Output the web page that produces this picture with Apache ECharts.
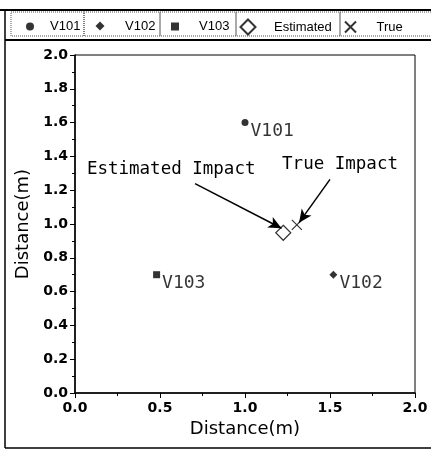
<!DOCTYPE html>
<html>
<head>
<meta charset="utf-8">
<script src="https://cdn.jsdelivr.net/npm/echarts@6/dist/echarts.min.js"></script>
<style>
  html, body { margin: 0; padding: 0; background: #fff; }
  #chart { width: 431px; height: 450px; }
</style>
</head>
<body>
<div id="chart"></div>
<script>
// sensor positions and impact points (m)
const v101 = [[1.0, 1.6]];
const v102 = [[1.52, 0.70]];
const v103 = [[0.48, 0.70]];
const estimated = [[1.225, 0.948]];
const trueImpact = [[1.305, 0.995]];

// annotation text anchors and arrows
const estText = [0.07, 1.32];
const trueText = [1.218, 1.35];
const estArrow = [[0.706, 1.239], [1.215, 0.975]];
const trueArrow = [[1.50, 1.264], [1.318, 1.008]];

const axisMin = 0, axisMax = 2.0;
const xStep = 0.5, yStep = 0.2;

const monoFont = "'DejaVu Sans Mono', monospace";
const black = '#000';

let myChart = echarts.init(document.getElementById('chart'));

// one legend per box, icon centred at cx, text starting at tx
function legendItem(name, cx, size, tx, top) {
  let left = cx - size / 2;
  return {
    data: [name],
    left: left,
    top: top,
    padding: 0,
    itemWidth: size,
    itemHeight: size,
    selectedMode: false,
    textStyle: {
      color: black, fontSize: 13, fontFamily: 'Liberation Sans, Arial',
      padding: [0, 0, 0, tx - (left + size + 5)]
    }
  };
}

function pointLabel(name) {
  return {
    show: true,
    formatter: name,
    position: 'right',
    distance: 2,
    offset: [0, 9],
    color: black,
    fontSize: 18,
    fontFamily: monoFont
  };
}

function cell(x1, x2) {
  return {
    type: 'rect',
    shape: { x: x1, y: 12, width: x2 - x1, height: 24 },
    style: { fill: 'none', stroke: '#555', lineWidth: 1, lineDash: [1, 1] },
    silent: true
  };
}

let option = {
  backgroundColor: '#fff',
  animation: false,
  legend: [
    legendItem('V101', 30, 8, 50, 20),
    legendItem('V102', 100, 9, 125, 19.5),
    legendItem('V103', 175, 8, 199, 20),
    legendItem('Estimated', 247, 15, 273, 18.5),
    legendItem('True', 348, 11, 374, 19)
  ],
  graphic: [
    { type: 'line', shape: { x1: 0, y1: 10, x2: 431, y2: 10 }, style: { stroke: black, lineWidth: 2 }, silent: true },
    { type: 'line', shape: { x1: 5, y1: 40, x2: 431, y2: 40 }, style: { stroke: black, lineWidth: 2 }, silent: true },
    { type: 'line', shape: { x1: 5, y1: 10, x2: 5, y2: 448 }, style: { stroke: black, lineWidth: 1.5 }, silent: true },
    { type: 'line', shape: { x1: 5, y1: 448, x2: 431, y2: 448 }, style: { stroke: black, lineWidth: 1.5 }, silent: true },
    cell(11, 84), cell(84, 160), cell(160, 236), cell(236, 340), cell(340, 440)
  ],
  grid: {
    left: 75,
    right: 16,
    top: 55,
    bottom: 57,
    show: true,
    borderColor: black,
    borderWidth: 1,
    backgroundColor: 'transparent'
  },
  xAxis: {
    type: 'value',
    min: axisMin,
    max: axisMax,
    interval: xStep,
    name: 'Distance(m)',
    nameLocation: 'middle',
    nameGap: 24,
    nameTextStyle: { color: black, fontSize: 18, fontFamily: 'DejaVu Sans' },
    axisLine: { show: true, onZero: false, lineStyle: { color: black, width: 1.5 } },
    axisTick: { show: true, length: 5, lineStyle: { color: black } },
    minorTick: { show: true, splitNumber: 2, length: 3, lineStyle: { color: black } },
    axisLabel: {
      color: black, fontSize: 14, fontWeight: 'bold', fontFamily: 'DejaVu Sans', margin: 8,
      formatter: v => v.toFixed(1)
    },
    splitLine: { show: false }
  },
  yAxis: {
    type: 'value',
    min: axisMin,
    max: axisMax,
    interval: yStep,
    name: 'Distance(m)',
    nameLocation: 'middle',
    nameGap: 37,
    nameTextStyle: { color: black, fontSize: 18, fontFamily: 'DejaVu Sans' },
    axisLine: { show: true, onZero: false, lineStyle: { color: black, width: 1.5 } },
    axisTick: { show: true, length: 5, lineStyle: { color: black } },
    minorTick: { show: true, splitNumber: 2, length: 3, lineStyle: { color: black } },
    axisLabel: {
      color: black, fontSize: 14, fontWeight: 'bold', fontFamily: 'DejaVu Sans', margin: 7,
      formatter: v => v.toFixed(1)
    },
    splitLine: { show: false }
  },
  series: [
    {
      name: 'V101',
      type: 'scatter',
      data: v101,
      symbol: 'circle',
      symbolSize: 7,
      itemStyle: { color: black },
      label: pointLabel('V101')
    },
    {
      name: 'V102',
      type: 'scatter',
      data: v102,
      symbol: 'diamond',
      symbolSize: 8,
      itemStyle: { color: black },
      label: pointLabel('V102')
    },
    {
      name: 'V103',
      type: 'scatter',
      data: v103,
      symbol: 'rect',
      symbolSize: 7,
      itemStyle: { color: black },
      label: pointLabel('V103')
    },
    {
      name: 'Estimated',
      type: 'scatter',
      data: estimated,
      symbol: 'diamond',
      symbolSize: 15,
      itemStyle: { color: '#fff', borderColor: black, borderWidth: 1.2 },
      z: 3,
      markPoint: {
        symbol: 'circle',
        symbolSize: 0,
        label: {
          show: true, position: 'right', distance: 0,
          color: black, fontSize: 17.5, fontFamily: monoFont,
          formatter: p => p.name
        },
        data: [
          { name: 'Estimated Impact', coord: estText },
          { name: 'True Impact', coord: trueText }
        ]
      },
      markLine: {
        silent: true,
        symbol: ['none', 'arrow'],
        symbolSize: [9, 13],
        label: { show: false },
        lineStyle: { color: black, type: 'solid', width: 1.5 },
        data: [
          [{ coord: estArrow[0] }, { coord: estArrow[1] }],
          [{ coord: trueArrow[0] }, { coord: trueArrow[1] }]
        ]
      }
    },
    {
      name: 'True',
      type: 'scatter',
      data: trueImpact,
      symbol: 'path://M0,0L10,10M10,0L0,10',
      symbolSize: 10,
      itemStyle: { color: 'none', borderColor: black, borderWidth: 1.2 },
      z: 4
    }
  ]
};

myChart.setOption(option);
</script>
</body>
</html>
